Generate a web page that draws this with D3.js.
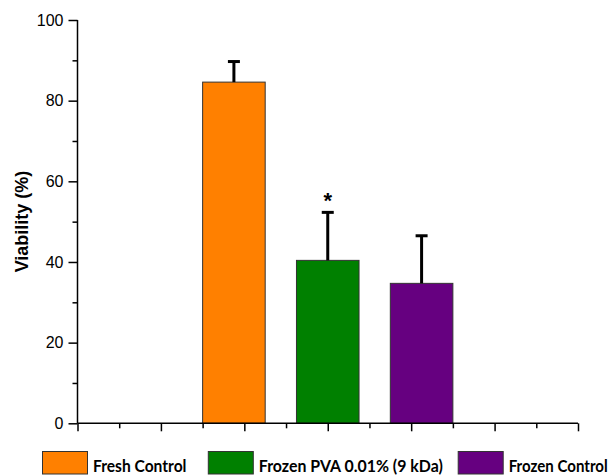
<!DOCTYPE html>
<html>
<head>
<meta charset="utf-8">
<script src="https://cdn.jsdelivr.net/npm/d3@7"></script>
<style>
  html, body { margin: 0; padding: 0; background: #fff; }
  svg { display: block; }
</style>
</head>
<body>
<svg id="chart" width="613" height="475"></svg>
<script>
// Cell viability per treatment group (mean and SD, %)
const groups = ["Fresh Control", "Frozen PVA 0.01% (9 kDa)", "Frozen Control"];
const viability = [84.6, 40.4, 34.7];
const errorSD = [5.1, 11.9, 11.8];
const significance = ["", "*", ""];
const colors = ["#FF8000", "#008000", "#660080"];
const yTicks = [0, 20, 40, 60, 80, 100];

const svg = d3.select("#chart");
const plotLeft = 77.5, plotRight = 578, plotTop = 20, plotBottom = 423.3;

// Continuous positional axis (0..6) underneath the categorical bars
const xAxisScale = d3.scaleLinear().domain([0, 6]).range([plotLeft, plotRight]);
const x = d3.scaleBand()
  .domain(groups)
  .range([xAxisScale(1.5), xAxisScale(4.5)])
  .paddingInner(1 / 3)
  .paddingOuter(0);
const y = d3.scaleLinear().domain([0, 100]).range([plotBottom, plotTop]);

const tickFont = "'Liberation Sans', Arial, sans-serif";

// Bars
svg.append("g").selectAll("rect")
  .data(groups)
  .join("rect")
  .attr("x", d => x(d))
  .attr("y", (d, i) => y(viability[i]))
  .attr("width", x.bandwidth())
  .attr("height", (d, i) => y(0) - y(viability[i]))
  .attr("fill", (d, i) => colors[i])
  .attr("stroke", "#333")
  .attr("stroke-width", 1);

// Upper error bars
const eb = svg.append("g").attr("stroke", "#000");
groups.forEach((g, i) => {
  const cx = x(g) + x.bandwidth() / 2;
  eb.append("line")
    .attr("x1", cx).attr("x2", cx)
    .attr("y1", y(viability[i])).attr("y2", y(viability[i] + errorSD[i]))
    .attr("stroke-width", 3);
  eb.append("line")
    .attr("x1", cx - 6).attr("x2", cx + 6)
    .attr("y1", y(viability[i] + errorSD[i])).attr("y2", y(viability[i] + errorSD[i]))
    .attr("stroke-width", 3);
  if (significance[i]) {
    svg.append("text")
      .attr("x", cx)
      .attr("y", y(viability[i] + errorSD[i]) - 4)
      .attr("text-anchor", "middle")
      .attr("font-family", tickFont)
      .attr("font-weight", "bold")
      .attr("font-size", 22)
      .text(significance[i]);
  }
});

// Y axis with major and minor ticks
const yAxisG = svg.append("g").attr("transform", `translate(${plotLeft},0)`);
yAxisG.call(d3.axisLeft(y).tickValues(yTicks).tickSize(9).tickPadding(5))
  .call(g => g.attr("font-family", tickFont).attr("font-size", 16))
  .call(g => g.select(".domain").attr("stroke-width", 1.5).attr("d", `M0,${plotTop}V${plotBottom}`))
  .call(g => g.selectAll(".tick line").attr("stroke-width", 1.5))
  .call(g => g.selectAll(".tick text").attr("fill", "#000"));
yAxisG.append("g")
  .call(d3.axisLeft(y).tickValues(d3.range(10, 100, 20)).tickSize(5).tickFormat(""))
  .call(g => g.select(".domain").remove())
  .call(g => g.selectAll(".tick line").attr("stroke-width", 1.5));

// X axis with major and minor ticks, no labels
const xAxisG = svg.append("g").attr("transform", `translate(0,${plotBottom})`);
xAxisG.call(d3.axisBottom(xAxisScale).tickValues(d3.range(0, 7, 1)).tickSize(8).tickFormat(""))
  .call(g => g.select(".domain").attr("stroke-width", 1.5).attr("d", `M${plotLeft},0H${plotRight}`))
  .call(g => g.selectAll(".tick line").attr("stroke-width", 1.5));
xAxisG.append("g")
  .call(d3.axisBottom(xAxisScale).tickValues(d3.range(0.5, 6, 1)).tickSize(5).tickFormat(""))
  .call(g => g.select(".domain").remove())
  .call(g => g.selectAll(".tick line").attr("stroke-width", 1.5));

// Y axis title
svg.append("text")
  .attr("transform", "translate(28,221.5) rotate(-90)")
  .attr("text-anchor", "middle")
  .attr("font-family", tickFont)
  .attr("font-weight", "bold")
  .attr("font-size", 18)
  .text("Viability (%)");

// Legend
const legendX = [42.5, 208.3, 458.2];
const legendTextW = [93.5, 184, 99];
const legend = svg.append("g");
groups.forEach((g, i) => {
  legend.append("rect")
    .attr("x", legendX[i]).attr("y", 451.5)
    .attr("width", 45).attr("height", 22.5)
    .attr("fill", colors[i])
    .attr("stroke", "#333").attr("stroke-width", 1);
  legend.append("text")
    .attr("x", legendX[i] + 50.5).attr("y", 471.5)
    .attr("font-family", "Lato, 'Open Sans', sans-serif")
    .attr("font-weight", "bold")
    .attr("font-size", 17.5)
    .attr("textLength", legendTextW[i])
    .attr("lengthAdjust", "spacingAndGlyphs")
    .text(g);
});
</script>
</body>
</html>
